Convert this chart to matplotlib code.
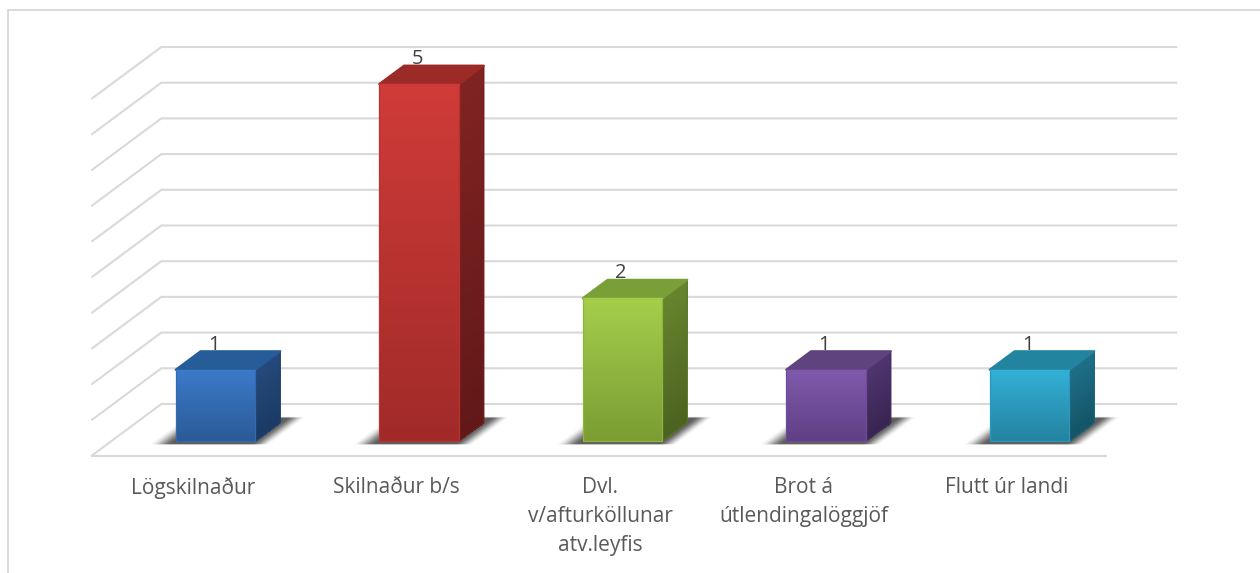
import numpy as np
import matplotlib
matplotlib.use("Agg")
import matplotlib.pyplot as plt
from matplotlib.patches import Polygon

categories = ["Lögskilnaður", "Skilnaður b/s", "Dvl.\nv/afturköllunar\natv.leyfis",
              "Brot á\nútlendingalöggjöf", "Flutt úr landi"]
values = [1, 5, 2, 1, 1]
grid_values = [0.5, 1, 1.5, 2, 2.5, 3, 3.5, 4, 4.5, 5]

# colours per bar: front top, front bottom, top face, side top, side bottom
front_top = ["#3b7aca", "#cf3b38", "#a5ce4b", "#8059ad", "#33b0d8"]
front_bot = ["#2a5a96", "#a02a28", "#7a9c32", "#5f3f83", "#23829f"]
top_face = ["#265c98", "#9c2a27", "#7b9f38", "#5f437f", "#23849f"]
side_top = ["#24497b", "#802322", "#67852d", "#4f3570", "#1f6f8a"]
side_bot = ["#1a3a63", "#611818", "#4b6120", "#38244f", "#135365"]

W, H = 1260, 573
PX_X0, PX_SLOT, PX_DX, PX_FLOOR, PX_DY, PX_UNIT = 195.5, 203.5, 70.0, 456.0, 52.0, 71.4
BAR_HALF = 0.196
D_FRONT, D_BACK = 0.286, 0.642
FLOOR_L, FLOOR_R = -0.512, 4.48

fig = plt.figure(figsize=(W / 100, H / 100), dpi=100)
ax = fig.add_axes([0, 0, 1, 1])
ax.set_xlim(-PX_X0 / PX_SLOT, (W - PX_X0) / PX_SLOT)
ax.set_ylim((PX_FLOOR - H) / PX_UNIT, PX_FLOOR / PX_UNIT)
ax.axis("off")
xl, yl = ax.get_xlim(), ax.get_ylim()


def proj(x, v, d):
    """category x, value v, depth d (0 front, 1 back wall) -> axes data coords"""
    return x + d * PX_DX / PX_SLOT, v + d * PX_DY / PX_UNIT


def hexrgb(c):
    return np.array(matplotlib.colors.to_rgb(c))


def mix(a, b):
    return tuple((hexrgb(a) + hexrgb(b)) / 2)


def face(c00, c10, c01, c11, lo, hi, edge=None, z=3):
    """Gradient quad. c** = (x, y) corners; lo, hi = gradient colours."""
    n = 120
    s, t = np.meshgrid(np.linspace(0, 1, 3), np.linspace(0, 1, n + 1))
    c00, c10, c01, c11 = map(np.array, (c00, c10, c01, c11))
    X = (1 - s) * (1 - t) * c00[0] + s * (1 - t) * c10[0] + (1 - s) * t * c01[0] + s * t * c11[0]
    Y = (1 - s) * (1 - t) * c00[1] + s * (1 - t) * c10[1] + (1 - s) * t * c01[1] + s * t * c11[1]
    tc = (np.arange(n) + 0.5) / n
    col = np.repeat(tc[:, None], 2, axis=1)[..., None]
    rgb = hexrgb(lo) * col + hexrgb(hi) * (1 - col)
    ax.pcolormesh(X, Y, rgb, shading="flat", zorder=z)
    if edge is not None:
        ax.add_patch(Polygon([c00, c10, c11, c01], closed=True, fill=False, ec=edge, lw=0.9,
                             joinstyle="round", zorder=z + 0.2))


def smooth(t):
    t = np.clip(t, 0, 1)
    return t * t * (3 - 2 * t)


grid_kw = dict(color="#d9d9d9", lw=1.5, solid_capstyle="butt", zorder=1)
for v in grid_values + [0]:
    x0, y0 = proj(FLOOR_L, v, 0)
    x1, y1 = proj(FLOOR_L, v, 1)
    x2, y2 = proj(FLOOR_R, v, 1)
    ax.plot([x0, x1, x2], [y0, y1, y2], solid_joinstyle="miter", **grid_kw)
x0, y0 = proj(FLOOR_L, 0, 0)
x1, y1 = proj(FLOOR_R, 0, 0)
ax.plot([x0, x1], [y0, y1], **grid_kw)

# soft shadows on the floor, evaluated per pixel of the figure
gx = np.linspace(xl[0], xl[1], W, endpoint=False) + (xl[1] - xl[0]) / W / 2
gy = np.linspace(yl[0], yl[1], H, endpoint=False) + (yl[1] - yl[0]) / H / 2
GX, GY = np.meshgrid(gx, gy)
GD = GY * PX_UNIT / PX_DY
GC = GX - GD * PX_DX / PX_SLOT
alpha = np.zeros_like(GX)
for i in range(len(values)):
    u = (GC - (i - 0.31)) / 0.60
    w = (GD - 0.205) / 0.56
    a = smooth(u / 0.20) * smooth((1 - u) / 0.16) * smooth(w / 0.07) * smooth((1 - w) / 0.08)
    alpha = np.maximum(alpha, a)
shadow = np.zeros(GX.shape + (4,))
shadow[..., :3] = 0.2
shadow[..., 3] = 0.8 * alpha
ax.imshow(shadow, extent=(xl[0], xl[1], yl[0], yl[1]), origin="lower", aspect="auto",
          interpolation="bilinear", zorder=2)

for i, (val, label) in enumerate(zip(values, categories)):
    xa, xb = i - BAR_HALF, i + BAR_HALF

    # side face
    face(proj(xb, 0, D_FRONT), proj(xb, 0, D_BACK), proj(xb, val, D_FRONT), proj(xb, val, D_BACK),
         side_top[i], side_bot[i], edge=mix(side_top[i], side_bot[i]), z=3)
    # top face
    ax.add_patch(Polygon([proj(xa, val, D_FRONT), proj(xb, val, D_FRONT),
                          proj(xb, val, D_BACK), proj(xa, val, D_BACK)],
                         closed=True, fc=top_face[i], ec=top_face[i], lw=1.5,
                         joinstyle="round", zorder=3.5))
    # front face
    face(proj(xa, 0, D_FRONT), proj(xb, 0, D_FRONT), proj(xa, val, D_FRONT), proj(xb, val, D_FRONT),
         front_top[i], front_bot[i], edge=mix(front_top[i], front_bot[i]), z=4)
    lx, ly = proj(xa, val, D_FRONT)
    rx, ry = proj(xb, val, D_FRONT)
    ax.plot([lx, rx], [ly, ry], color=front_top[i], lw=1.0, zorder=4.4, solid_capstyle="round")

    # data label
    tx, ty = proj(i, val, D_FRONT)
    ax.text(tx - 0.008, ty + 25.0 / PX_UNIT, str(val), ha="center", va="center",
            color="#404040", fontsize=14.5, family="Open Sans", zorder=6)
    # category label
    ax.text(i - 0.012, -0.30, label, ha="center", va="top", color="#595959",
            fontsize=15, family="Open Sans", linespacing=1.5, zorder=6)

# outer frame: only top and left edges are visible in the source crop
fx = xl[0] + (xl[1] - xl[0]) * 7.5 / W
fy = yl[1] - (yl[1] - yl[0]) * 9.5 / H
ax.plot([fx, fx, xl[1]], [yl[0], fy, fy], color="#d9d9d9", lw=1.4, solid_joinstyle="miter", zorder=0)

ax.set_xlim(xl)
ax.set_ylim(yl)
fig.savefig("out.png", dpi=100, facecolor="white")
